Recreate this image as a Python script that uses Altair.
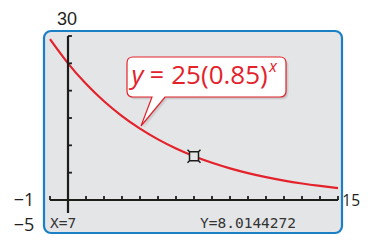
import altair as alt
import pandas as pd

# ---- data ----
curve_x = list(range(-1, 16))
curve_y = [29.41, 25.0, 21.25, 18.06, 15.35, 13.05, 11.09, 9.43, 8.01,
           6.81, 5.79, 4.92, 4.18, 3.55, 3.02, 2.57, 2.18]
x_ticks = list(range(-1, 16))
y_ticks = [5, 10, 15, 20, 25, 30]
trace_x = [7]
trace_y = [8.0144272]
x_window = [-1, 15]
y_axis_span = [-2.38, 30]
window_labels = ["30", "\u22121", "15", "\u22125"]
readout = ["X=7", "Y=8.0144272"]
equation = ["y", "=", "25(0.85)", "x"]

# ---- styling ----
RED = "#e3222b"
BG = "#e4e5e7"
BLUE = "#1a80c6"
INK = "#1d1d1b"
W, H = 298, 202
XDOM = [-1.3333, 15.2222]
YDOM = [-6.037, 30.915]
xs = alt.Scale(domain=XDOM, nice=False, zero=False)
ys = alt.Scale(domain=YDOM, nice=False, zero=False)
TICK_Y = 0.73   # 4 px in y units
TICK_X = 0.22   # 4 px in x units

X = lambda f: alt.X(f, type="quantitative", scale=xs, axis=None)
Y = lambda f: alt.Y(f, type="quantitative", scale=ys, axis=None)

MARKER = ("M-0.69,-0.69L0.69,-0.69L0.69,0.69L-0.69,0.69Z"
          "M-1,-1L-0.69,-0.69M1,-1L0.69,-0.69M1,1L0.69,0.69M-1,1L-0.69,0.69")
CALLOUT = ("M-1.47,-0.4L1.47,-0.4Q1.59,-0.4 1.59,-0.28L1.59,0.28"
           "Q1.59,0.4 1.47,0.4L-0.83,0.4L-1.31,0.98L-1.09,0.4L-1.47,0.4"
           "Q-1.59,0.4 -1.59,0.28L-1.59,-0.28Q-1.59,-0.4 -1.47,-0.4Z")

curve = alt.Chart(pd.DataFrame({"x": curve_x, "y": curve_y})).mark_line(
    color=RED, strokeWidth=2.2, interpolate="monotone"
).encode(x=X("x"), y=Y("y"))

xaxis = alt.Chart(pd.DataFrame({"x": [x_window[0]], "x2": [x_window[1]], "y": [0]})).mark_rule(
    color=INK, strokeWidth=2.2
).encode(x=X("x"), x2="x2", y=Y("y"))

yaxis = alt.Chart(pd.DataFrame({"x": [0], "y": [y_axis_span[0]], "y2": [y_axis_span[1]]})).mark_rule(
    color=INK, strokeWidth=2.2
).encode(x=X("x"), y=Y("y"), y2="y2")

xt = alt.Chart(pd.DataFrame({"x": x_ticks, "y": [0] * len(x_ticks), "y2": [TICK_Y] * len(x_ticks)})).mark_rule(
    color=INK, strokeWidth=1.8
).encode(x=X("x"), y=Y("y"), y2="y2")

yt = alt.Chart(pd.DataFrame({"y": y_ticks, "x": [0] * len(y_ticks), "x2": [TICK_X] * len(y_ticks)})).mark_rule(
    color=INK, strokeWidth=1.8
).encode(x=X("x"), x2="x2", y=Y("y"))

marker = alt.Chart(pd.DataFrame({"x": trace_x, "y": trace_y})).mark_point(
    shape=MARKER, size=169, filled=True, fill=BG, stroke=INK, strokeWidth=1.5, opacity=1
).encode(x=X("x"), y=Y("y"))

base = alt.Chart(pd.DataFrame({"a": [0]}))

def callout_layer(**kw):
    return base.mark_point(shape=CALLOUT, size=10000, filled=True, opacity=1, **kw).encode(
        x=alt.value(162.5), y=alt.value(46))

shadow1 = callout_layer(fill="#9a9a9a", fillOpacity=0.25, strokeOpacity=0, xOffset=2.5, yOffset=2.5)
shadow2 = callout_layer(fill="#9a9a9a", fillOpacity=0.3, strokeOpacity=0, xOffset=1.2, yOffset=1.2)
bubble = callout_layer(fill="white", stroke=RED, strokeWidth=1.2)

def txt(s, x, y, **kw):
    return base.mark_text(text=s, **kw).encode(x=alt.value(x), y=alt.value(y))

eq = [
    txt(equation[0], 87.5, 53, font="Open Sans", fontSize=26, fontStyle="italic", color=RED, align="left", baseline="alphabetic"),
    txt(equation[1], 113, 53, font="Open Sans", fontSize=25, color=RED, align="center", baseline="alphabetic"),
    txt(equation[2], 175.5, 53, font="Open Sans", fontSize=26, color=RED, align="center", baseline="alphabetic"),
    txt(equation[3], 229, 41, font="Open Sans", fontSize=16, fontStyle="italic", color=RED, align="center", baseline="alphabetic"),
]

lab_style = dict(color="#231f20")
labels = [
    txt(window_labels[0], 23, -6.5, align="center", baseline="alphabetic", fontSize=18, font="Liberation Sans", **lab_style),
    txt(window_labels[1], -20, 170, align="center", baseline="middle", fontSize=18, font="Open Sans", **lab_style),
    txt(window_labels[2], 316, 170, align="right", baseline="middle", fontSize=15.5, font="Open Sans", **lab_style),
    txt(window_labels[3], -20, 195, align="center", baseline="middle", fontSize=18, font="Open Sans", **lab_style),
]

ro_style = dict(font="DejaVu Sans Mono", fontSize=14.5, color="#333333", align="left", baseline="alphabetic")
readouts = [
    txt(readout[0], 6, 197, **ro_style),
    txt(readout[1], 156, 197, **ro_style),
]

chart = alt.layer(
    curve, xaxis, yaxis, xt, yt, marker, shadow1, shadow2, bubble, *eq, *labels, *readouts
).properties(
    width=W, height=H,
    padding={"left": 36, "top": 23, "right": 18, "bottom": 7},
    autosize=alt.AutoSizeParams(type="none"),
).configure_view(
    fill=BG, stroke=BLUE, strokeWidth=2.2, cornerRadius=7
)

chart.save("out.html", embed_options={"renderer": "svg", "actions": False})
